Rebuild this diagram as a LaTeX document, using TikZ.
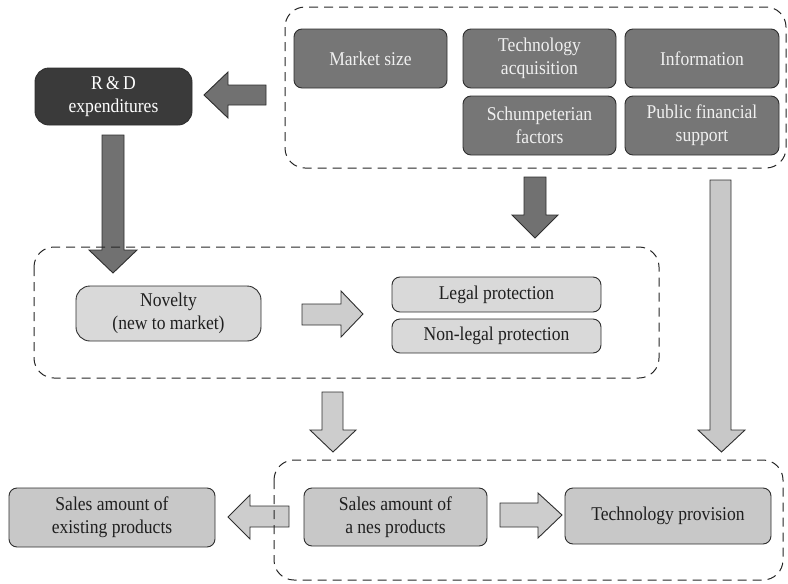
\documentclass[tikz,border=0pt]{standalone}
\usepackage{fontspec}
\setmainfont{Liberation Serif}[FakeStretch=0.9]
\definecolor{rddark}{HTML}{3A3A3A}
\definecolor{midgray}{HTML}{767676}
\definecolor{darrow}{HTML}{717171}
\definecolor{lightbox}{HTML}{D9D9D9}
\definecolor{salebox}{HTML}{C8C8C8}
\definecolor{larrow}{HTML}{CDCDCD}
\definecolor{edge}{HTML}{2E2E2E}
\tikzset{
  box/.style={draw=edge, line width=0.9pt, align=center, inner sep=0pt,
    font=\fontsize{19.5}{23}\selectfont},
  rdbox/.style={box, fill=rddark, text=white, rounded corners=14pt},
  factorbox/.style={box, fill=midgray, text=white!94!black, rounded corners=8pt},
  novbox/.style={box, fill=lightbox, text=black!88, rounded corners=14pt},
  protbox/.style={box, fill=lightbox, text=black!88, rounded corners=8pt},
  salesbox/.style={box, fill=salebox, text=black!88, rounded corners=8pt},
  container/.style={draw=black!85, line width=1pt, dash pattern=on 9pt off 6pt, rounded corners=20pt},
  darkarrow/.style={draw=edge, line width=0.9pt, fill=darrow},
  lightarrow/.style={draw=edge, line width=0.9pt, fill=larrow},
}
\begin{document}
\begin{tikzpicture}[x=1pt,y=-1pt]
\useasboundingbox (0,0) rectangle (788,584);

% nodes
\node[rdbox, minimum width=157pt, minimum height=57pt] (rd) at (113.5,96.5) {R\,\&\,D\\expenditures};
\node[factorbox, minimum width=153pt, minimum height=59pt] (ms) at (370.5,58.5) {Market size};
\node[factorbox, minimum width=153pt, minimum height=59pt] (ta) at (539.5,58.5) {Technology\\acquisition};
\node[factorbox, minimum width=154pt, minimum height=59pt] (inf) at (702,58.5) {Information};
\node[factorbox, minimum width=153pt, minimum height=59pt] (sf) at (539.5,125.5) {Schumpeterian\\factors};
\node[factorbox, minimum width=154pt, minimum height=59pt] (pfs) at (702,125.5) {Public financial\\support};

\node[novbox, minimum width=185pt, minimum height=55pt] (nov) at (168.5,313.5) {Novelty\\(new to market)};
\node[protbox, minimum width=209pt, minimum height=35pt] (lp) at (496.5,294.5) {Legal protection};
\node[protbox, minimum width=209pt, minimum height=34pt] (nlp) at (496.5,336) {Non-legal protection};

\node[salesbox, minimum width=206pt, minimum height=59pt] (se) at (112,517.5) {Sales amount of\\existing products};
\node[salesbox, minimum width=183pt, minimum height=58pt] (sn) at (395.5,517) {Sales amount of\\a nes products};
\node[salesbox, minimum width=206pt, minimum height=56pt] (tp) at (668,516) {Technology provision};

% block arrows
\draw[darkarrow] (204,95) -- (228,72) -- (228,85) -- (266,85) -- (266,105) -- (228,105) -- (228,118) -- cycle;
\draw[darkarrow] (102,135) -- (124,135) -- (124,250) -- (137,250) -- (113,273) -- (89,250) -- (102,250) -- cycle;
\draw[darkarrow] (524,177) -- (546,177) -- (546,215) -- (558,215) -- (535,238) -- (512,215) -- (524,215) -- cycle;

\draw[lightarrow] (302,304) -- (341,304) -- (341,291) -- (363,314) -- (341,337) -- (341,325) -- (302,325) -- cycle;
\draw[lightarrow] (322,392) -- (343,392) -- (343,430) -- (356,430) -- (333,452) -- (310,430) -- (322,430) -- cycle;
\draw[lightarrow, fill=salebox] (710,180) -- (731,180) -- (731,430) -- (745,430) -- (721.5,452) -- (698,430) -- (710,430) -- cycle;
\draw[lightarrow] (228,517) -- (250,495) -- (250,506) -- (289,506) -- (289,527) -- (250,527) -- (250,539) -- cycle;
\draw[lightarrow] (500,503) -- (538,503) -- (538,493) -- (562,515) -- (538,538) -- (538,527) -- (500,527) -- cycle;

% dashed containers
\draw[container] (285,7) rectangle (786,168);
\draw[container] (34,247) rectangle (659,378);
\draw[container] (274,460) rectangle (783,580);
\end{tikzpicture}
\end{document}
